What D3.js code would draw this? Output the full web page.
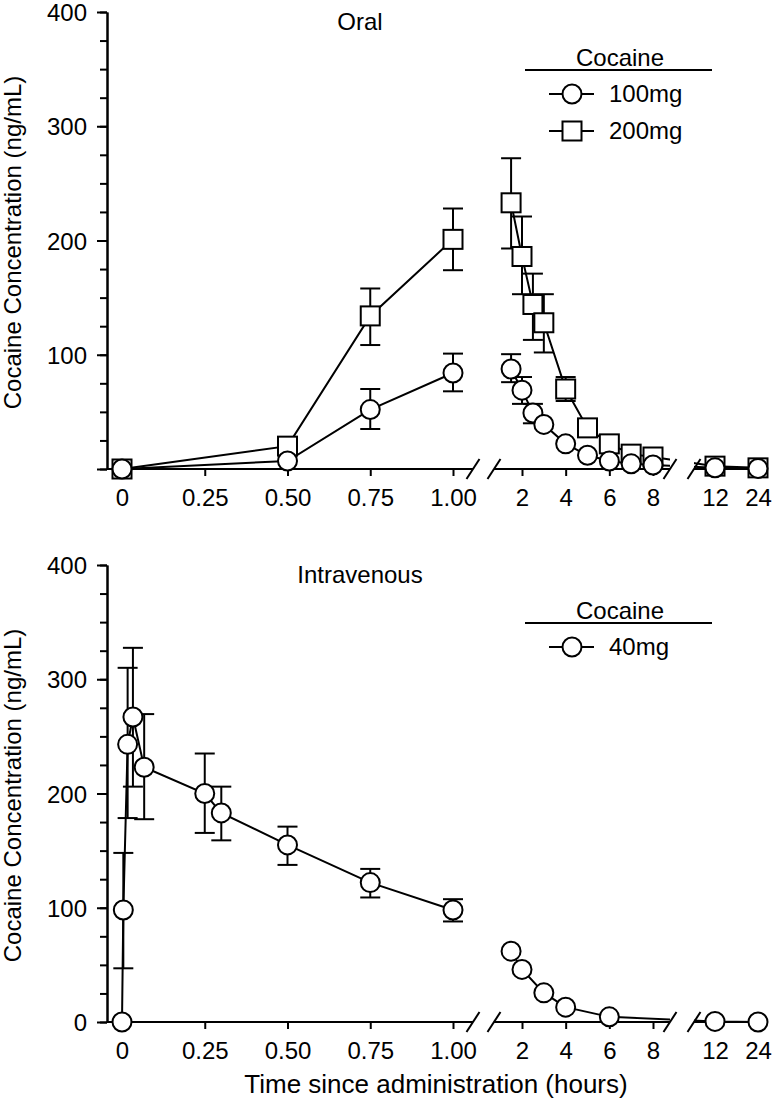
<!DOCTYPE html>
<html><head><meta charset="utf-8">
<script src="https://cdn.jsdelivr.net/npm/d3@7"></script>
<style>body{margin:0;background:#fff}svg{display:block}</style>
</head><body><svg id="c" width="774" height="1110"></svg>
<script>
// ---------------- DATA ----------------
const oralTimes = [0, 0.5, 0.75, 1.0, 1.5, 2, 2.5, 3, 4, 5, 6, 7, 8, 12, 24];
const oral100   = [0, 7, 52, 84, 87.5, 69, 49, 39, 22, 12, 7, 4.5, 3.5, 1, 0.5];
const oral100Lo = [null, null, 35, 68, 76, 57, 40, null, null, null, null, null, null, null, null];
const oral100Hi = [null, null, 70, 101, 100.5, 80.5, 57, null, null, null, null, null, null, null, null];
const oral200   = [0, 20, 134, 201, 233, 186, 144, 128, 70, 36, 22, 13, 10.5, 2.5, 1];
const oral200Lo = [null, null, 108.5, 174, 193, 153, 113, 102, 59.5, null, null, null, null, null, null];
const oral200Hi = [null, null, 158, 228, 272, 221, 171, 153, 80.5, null, null, null, null, null, null];

const ivTimes = [0, 0.004, 0.017, 0.033, 0.067, 0.25, 0.30, 0.5, 0.75, 1.0, 1.5, 2, 3, 4, 6, 12, 24];
const iv40    = [0, 98, 243, 267, 223, 200, 183, 155, 122, 98, 62, 46, 25.5, 13, 4.5, 0.5, 0];
const iv40Lo  = [null, 47, 178.5, 206, 177.5, 165.5, 159, 137.5, 109, 88, null, null, null, null, null, null, null];
const iv40Hi  = [null, 148, 310, 327.5, 269.5, 235, 206, 171, 134, 107.5, null, null, null, null, null, null, null];

const seg1Ticks = [0, 0.25, 0.5, 0.75, 1.0];
const seg1Labels = ["0", "0.25", "0.50", "0.75", "1.00"];
const seg2Ticks = [2, 4, 6, 8];
const seg2Labels = ["2", "4", "6", "8"];
const seg3Ticks = [12, 24];
const seg3Labels = ["12", "24"];
const yMajor = [0, 100, 200, 300, 400];

// ---------------- LAYOUT ----------------
const FONT = "'Liberation Sans', Arial, Helvetica, sans-serif";
const FS = 24;
const axisX = 107;
const s1 = d3.scaleLinear().domain([0, 1]).range([122, 453]);
const s2 = d3.scaleLinear().domain([2, 8]).range([522, 653]);
const s3 = d3.scaleLinear().domain([12, 24]).range([715, 758]);
const segs = [
  {scale: s1, ticks: seg1Ticks, labels: seg1Labels, ext: [axisX, 473]},
  {scale: s2, ticks: seg2Ticks, labels: seg2Labels, ext: [494, 670]},
  {scale: s3, ticks: seg3Ticks, labels: seg3Labels, ext: [694, 765]}
];
const breaks = [473, 494, 670, 694];
function xPos(t) {
  if (t <= 1.2) return s1(t);
  if (t <= 10) return s2(t);
  return s3(t);
}

const svg = d3.select("#c");
const defs = svg.append("defs");
defs.append("clipPath").attr("id", "clipB").selectAll("rect")
  .data([[494, 670], [694, 774]]).join("rect")
  .attr("x", d => d[0]).attr("width", d => d[1] - d[0]).attr("y", 0).attr("height", 1110);

function drawPanel(top, bottom, title, showZero, series, legendRows) {
  const y = d3.scaleLinear().domain([0, 400]).range([bottom, top]);
  const g = svg.append("g");

  const minor = g.append("g").attr("transform", `translate(${axisX},0)`)
    .call(d3.axisLeft(y).tickValues(d3.range(0, 401, 25)).tickSize(7).tickSizeOuter(0).tickFormat(""));
  const major = g.append("g").attr("transform", `translate(${axisX},0)`)
    .call(d3.axisLeft(y).tickValues(yMajor).tickSize(10).tickSizeOuter(0).tickPadding(10)
      .tickFormat(d => (d === 0 && !showZero) ? "" : d));
  [minor, major].forEach(a => {
    a.selectAll("path,line").attr("stroke", "#000").attr("stroke-width", 2);
    a.selectAll("text").attr("font-family", FONT).attr("font-size", FS).attr("fill", "#000");
  });
  major.selectAll(".tick text").attr("dy", "0.36em");

  g.append("text")
    .attr("transform", `translate(21,${(top + bottom) / 2 + 2}) rotate(-90)`)
    .attr("text-anchor", "middle").attr("font-family", FONT).attr("font-size", FS)
    .text("Cocaine Concentration (ng/mL)");

  segs.forEach(sg => {
    const ax = g.append("g").attr("transform", `translate(0,${bottom})`)
      .call(d3.axisBottom(sg.scale).tickValues(sg.ticks).tickSize(7).tickSizeOuter(0).tickPadding(13)
        .tickFormat((d, i) => sg.labels[i]));
    ax.select(".domain").remove();
    ax.selectAll("line").attr("stroke", "#000").attr("stroke-width", 2);
    ax.selectAll("text").attr("font-family", FONT).attr("font-size", FS).attr("fill", "#000");
    g.append("line").attr("x1", sg.ext[0]).attr("x2", sg.ext[1]).attr("y1", bottom).attr("y2", bottom)
      .attr("stroke", "#000").attr("stroke-width", 2);
  });
  breaks.forEach(bx => {
    g.append("line").attr("x1", bx - 6.5).attr("y1", bottom + 10).attr("x2", bx + 6.5).attr("y2", bottom - 10)
      .attr("stroke", "#000").attr("stroke-width", 2);
  });

  g.append("text").attr("x", 360).attr("y", top + 18).attr("text-anchor", "middle")
    .attr("font-family", FONT).attr("font-size", FS).text(title);

  series.forEach(s => {
    const pts = s.times.map((t, i) => ({t, v: s.vals[i], lo: s.lo[i], hi: s.hi[i]}));
    const sg = g.append("g");
    pts.filter(p => p.lo !== null).forEach(p => {
      const x = xPos(p.t);
      sg.append("line").attr("x1", x).attr("x2", x).attr("y1", y(p.lo)).attr("y2", y(p.hi))
        .attr("stroke", "#000").attr("stroke-width", 2);
      [p.lo, p.hi].forEach(v => sg.append("line").attr("x1", x - 10).attr("x2", x + 10)
        .attr("y1", y(v)).attr("y2", y(v)).attr("stroke", "#000").attr("stroke-width", 2));
    });
    const line = d3.line().x(p => xPos(p.t)).y(p => y(p.v));
    sg.append("path").datum(pts.filter(p => p.t <= 1)).attr("d", line)
      .attr("fill", "none").attr("stroke", "#000").attr("stroke-width", 2);
    sg.append("path").datum(pts.filter(p => p.t > 1)).attr("d", line).attr("clip-path", "url(#clipB)")
      .attr("fill", "none").attr("stroke", "#000").attr("stroke-width", 2);
    pts.forEach(p => drawMarker(sg, s.shape, xPos(p.t), y(p.v)));
  });

  const lg = g.append("g");
  lg.append("text").attr("x", 620).attr("y", top + 54).attr("text-anchor", "middle")
    .attr("font-family", FONT).attr("font-size", FS).text("Cocaine");
  lg.append("line").attr("x1", 525).attr("x2", 712).attr("y1", top + 58).attr("y2", top + 58)
    .attr("stroke", "#000").attr("stroke-width", 2);
  legendRows.forEach((r, i) => {
    const ry = top + 82 + i * 37;
    lg.append("line").attr("x1", 549).attr("x2", 594).attr("y1", ry).attr("y2", ry)
      .attr("stroke", "#000").attr("stroke-width", 2);
    drawMarker(lg, r.shape, 572, ry);
    lg.append("text").attr("x", 609).attr("y", ry).attr("dy", "0.35em")
      .attr("font-family", FONT).attr("font-size", FS).text(r.label);
  });
}

function drawMarker(g, shape, x, y) {
  if (shape === "circle") {
    g.append("circle").attr("cx", x).attr("cy", y).attr("r", 9.5)
      .attr("fill", "#fff").attr("stroke", "#000").attr("stroke-width", 2);
  } else {
    g.append("rect").attr("x", x - 9.5).attr("y", y - 9.5).attr("width", 19).attr("height", 19)
      .attr("fill", "#fff").attr("stroke", "#000").attr("stroke-width", 2);
  }
}

drawPanel(12, 469, "Oral", false, [
  {times: oralTimes, vals: oral200, lo: oral200Lo, hi: oral200Hi, shape: "square"},
  {times: oralTimes, vals: oral100, lo: oral100Lo, hi: oral100Hi, shape: "circle"}
], [{shape: "circle", label: "100mg"}, {shape: "square", label: "200mg"}]);

drawPanel(565, 1022, "Intravenous", true, [
  {times: ivTimes, vals: iv40, lo: iv40Lo, hi: iv40Hi, shape: "circle"}
], [{shape: "circle", label: "40mg"}]);

svg.append("text").attr("x", 436).attr("y", 1093).attr("text-anchor", "middle")
  .attr("font-family", FONT).attr("font-size", 26).text("Time since administration (hours)");
</script>
</body></html>
